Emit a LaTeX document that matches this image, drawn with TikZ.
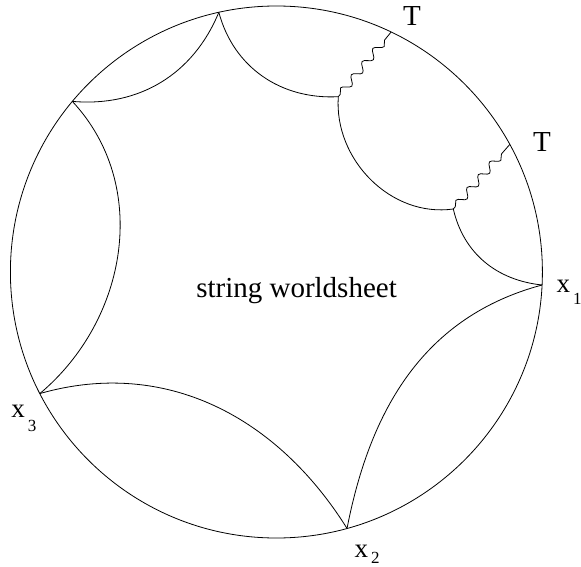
\documentclass[tikz,border=0pt]{standalone}
\usepackage{fontspec}
\setmainfont{Liberation Serif}
\usetikzlibrary{calc,decorations.pathmorphing}
\newcommand\xsub[2]{x\kern3pt\raisebox{-#2}{\fontsize{17}{17}\selectfont #1}}
\begin{document}
\begin{tikzpicture}[x=1pt,y=1pt,
  curve/.style={line width=0.8pt},
  wavy/.style={line width=0.8pt, decorate, decoration={snake,segment length=17pt,amplitude=3.8pt,pre length=3pt,post length=9pt}},
  lbl/.style={font=\fontsize{29}{32}\selectfont, inner sep=0pt},
  xlbl/.style={font=\fontsize{27}{30}\selectfont, inner sep=0pt, anchor=base west}]
\useasboundingbox (0,0) rectangle (581,-567);
\coordinate (O) at (276.4,-272);
\coordinate (Ptop) at ($(O)+(102.5:266)$);
\coordinate (Pul) at ($(O)+(140.1:266)$);
\coordinate (x3) at ($(O)+(207.2:266)$);
\coordinate (x2) at ($(O)+(285.4:266)$);
\coordinate (x1) at ($(O)+(-2.8:266)$);
\coordinate (T1) at ($(O)+(64.45:266)$);
\coordinate (T2) at ($(O)+(28.66:266)$);
\coordinate (J1) at (338.3,-96.7);
\coordinate (J2) at (453.3,-209);
% boundary circle
\draw[curve] (O) circle[radius=266];
% worldsheet boundary arcs
\draw[curve] (x1) to[out=195,in=79] (x2);
\draw[curve] (x3) to[out=16,in=122] (x2);
\draw[curve] (x3) to[out=40,in=-47] (Pul);
\draw[curve] (Pul) to[out=-5,in=247.6] (Ptop);
\draw[curve] (Ptop) to[out=-75,in=183] (J1);
\draw[curve] (J1) to[out=266,in=188] (J2);
\draw[curve] (J2) to[out=-77,in=174] (x1);
% wavy lines
\draw[wavy] (J1) -- (T1);
\draw[wavy] (J2) -- (T2);
% labels
\node[lbl] (tA) at (412,-16) {T};
\node[lbl] (tB) at (542,-142) {T};
\node[xlbl] (l1) at (556.3,-292) {\xsub{1}{12pt}};
\node[xlbl] (l2) at (354.3,-557) {\xsub{2}{6pt}};
\node[xlbl] (l3) at (11.3,-417) {\xsub{3}{14pt}};
\node[lbl,anchor=base east] (ws) at (397,-297) {string worldsheet};
\end{tikzpicture}
\end{document}
